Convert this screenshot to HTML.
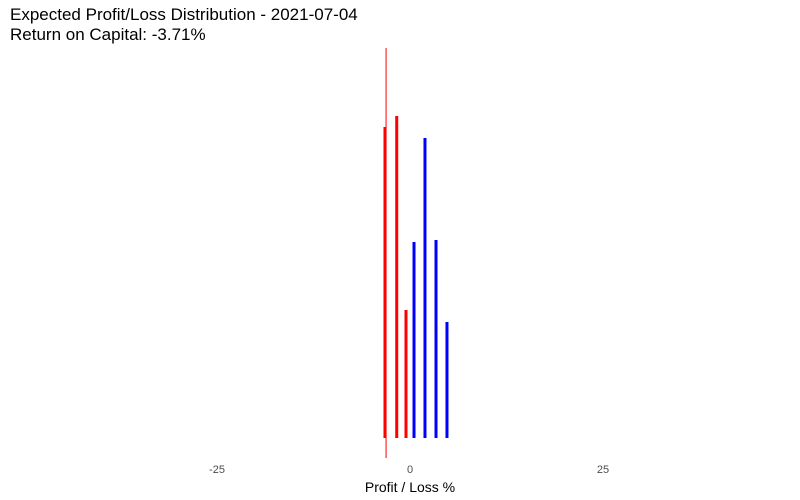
<!DOCTYPE html>
<html><head><meta charset="utf-8"><style>
body{margin:0;background:#fff;}
svg{display:block;font-family:"Liberation Sans",sans-serif;}
</style></head><body>
<svg id="chart" width="800" height="500">
<text x="10" y="20" font-size="17" fill="#000">Expected Profit/Loss Distribution - 2021-07-04</text>
<text x="10" y="40" font-size="17" fill="#000">Return on Capital: -3.71%</text>
<text x="410" y="492" font-size="14" text-anchor="middle" fill="#000">Profit / Loss %</text>
<g id="bars"></g>
<g id="ticks"></g>
</svg>
<script>
const redX = [-3.24, -1.72, -0.52];
const redVals = [311, 322, 128];
const blueX = [0.52, 1.94, 3.37, 4.79];
const blueVals = [196, 300, 198, 116];
const tickVals = [-25, 0, 25];
const tickLabels = ["-25", "0", "25"];
const vlineX = -3.1;
const NS = "http://www.w3.org/2000/svg";
const xs = v => 410 + v * 7.72;
const base = 438;
const ys = v => base - v;
const bars = document.getElementById('bars');
function bar(x, v, color, i) {
  const r = document.createElementNS(NS, 'rect');
  r.setAttribute('x', xs(x) - 1.5);
  r.setAttribute('y', ys(v));
  r.setAttribute('width', 3);
  r.setAttribute('height', base - ys(v));
  r.setAttribute('fill', color);
  
  
  bars.appendChild(r);
}
redX.forEach((x, i) => bar(x, redVals[i], 'red', i));
blueX.forEach((x, i) => bar(x, blueVals[i], 'blue', i));
const l = document.createElementNS(NS, 'line');
l.setAttribute('x1', xs(vlineX)); l.setAttribute('x2', xs(vlineX));
l.setAttribute('y1', 48); l.setAttribute('y2', 458);
l.setAttribute('stroke', 'red'); l.setAttribute('stroke-width', 1);


bars.appendChild(l);
const ticks = document.getElementById('ticks');
tickVals.forEach((v, i) => {
  const t = document.createElementNS(NS, 'text');
  t.setAttribute('x', xs(v)); t.setAttribute('y', 473);
  t.setAttribute('font-size', 11); t.setAttribute('fill', '#4d4d4d');
  t.setAttribute('text-anchor', 'middle');
  
  
  t.textContent = tickLabels[i];
  ticks.appendChild(t);
});
</script>
</body></html>
